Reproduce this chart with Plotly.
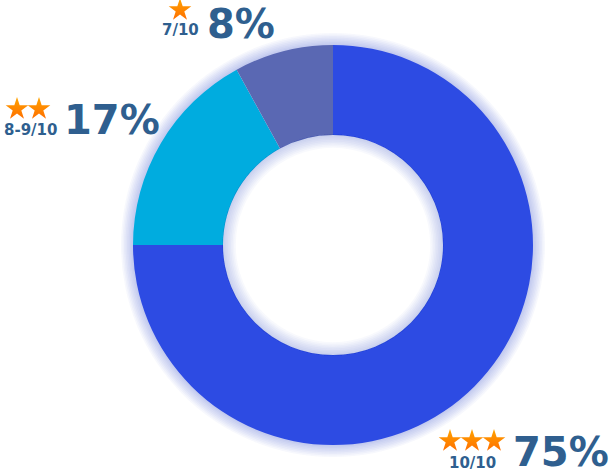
import plotly.graph_objects as go

W, H = 613, 475
categories = ["10/10", "8-9/10", "7/10"]
values = [75, 17, 8]
stars = [3, 2, 1]
colors = ["#2d4be3", "#00acdf", "#5a68b3"]

CX, CY, R, RH = 333, 245, 200, 110

def dom(r):
    return dict(x=[(CX - r) / W, (CX + r) / W], y=[1 - (CY + r) / H, 1 - (CY - r) / H])

fig = go.Figure()

# soft outer shadow rings
for k in range(1, 9):
    r = R + k * 1.5
    fig.add_trace(go.Pie(values=[1], domain=dom(r), hole=(R - 2) / r, sort=False,
                         marker=dict(colors=["rgba(60,80,200,0.04)"], line=dict(width=0)),
                         textinfo="none", hoverinfo="skip", showlegend=False))

fig.add_trace(go.Pie(labels=categories, values=values, domain=dom(R), hole=RH / R,
                     sort=False, direction="clockwise", rotation=0,
                     marker=dict(colors=colors, line=dict(width=0)),
                     textinfo="none", hoverinfo="skip", showlegend=False))

# inner shadow rings
for k in range(1, 9):
    fig.add_trace(go.Pie(values=[1], domain=dom(RH + 0.5), hole=(RH - k * 1.6) / (RH + 0.5), sort=False,
                         marker=dict(colors=["rgba(60,80,200,0.035)"], line=dict(width=0)),
                         textinfo="none", hoverinfo="skip", showlegend=False))

TXT = "#2f5f8f"
PF = "DejaVu Sans"

def ann(x, y, text, size, color, xanchor="center"):
    fig.add_annotation(x=x / W, y=1 - y / H, xref="paper", yref="paper", text=text,
                       showarrow=False, xanchor=xanchor, yanchor="middle",
                       font=dict(family=PF, size=size, color=color, weight="bold"))

# label placements (pixel positions)
pct_pos = [(511, 452), (62, 120), (205, 24)]
cat_pos = [(472, 463), (30, 130), (180, 30)]
star_first = [(450, 441), (17, 109), (180, 10)]
STAR_STEP = 22

sx, sy = [], []
for i in range(3):
    ann(pct_pos[i][0], pct_pos[i][1], f"{values[i]}%", 40, TXT, "left")
    ann(cat_pos[i][0], cat_pos[i][1], categories[i], 15, TXT)
    for j in range(stars[i]):
        sx.append(star_first[i][0] + j * STAR_STEP)
        sy.append(star_first[i][1])

fig.add_trace(go.Scatter(x=sx, y=sy, mode="markers", hoverinfo="skip", showlegend=False,
                         marker=dict(symbol="star", size=17, color="#ffa400",
                                     gradient=dict(type="vertical", color="#ff6f00"),
                                     line=dict(width=0))))

fig.update_xaxes(visible=False, range=[0, W], domain=[0, 1], fixedrange=True)
fig.update_yaxes(visible=False, range=[H, 0], domain=[0, 1], fixedrange=True)

fig.update_layout(width=W, height=H, margin=dict(l=0, r=0, t=0, b=0),
                  paper_bgcolor="white", plot_bgcolor="rgba(0,0,0,0)", showlegend=False)
fig.write_html("out.html", config={"displayModeBar": False},
               post_script="document.body.style.margin='0px';document.body.style.padding='0px';")
